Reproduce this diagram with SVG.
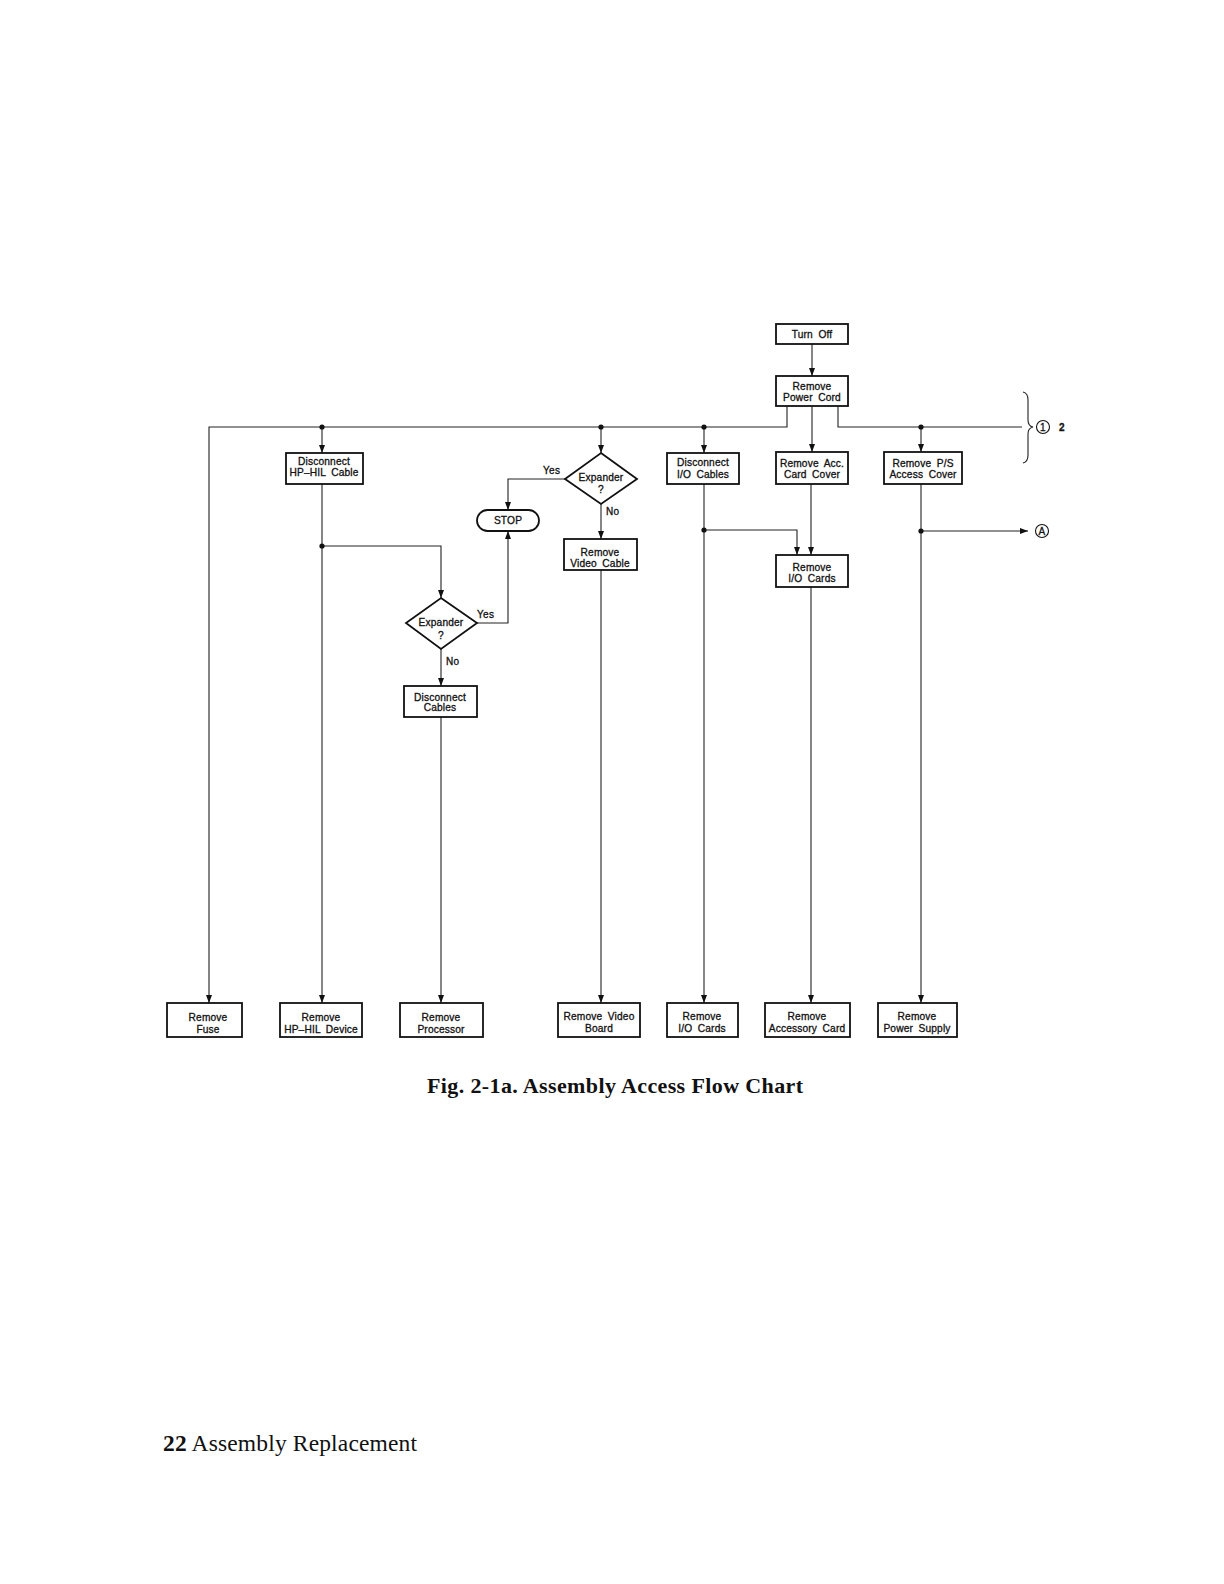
<svg xmlns="http://www.w3.org/2000/svg" width="1224" height="1584" viewBox="0 0 1224 1584">
<defs>
<style>
.box{fill:#fff;stroke:#111;stroke-width:1.8}
.ln{fill:none;stroke:#222;stroke-width:1.1}
.t{font-family:"Liberation Sans","DejaVu Sans",sans-serif;font-size:10.2px;fill:#111;stroke:#111;stroke-width:0.3;text-anchor:middle;word-spacing:2.5px;letter-spacing:0.15px}
.lbl{font-family:"Liberation Sans","DejaVu Sans",sans-serif;font-size:10px;fill:#111;stroke:#111;stroke-width:0.3;letter-spacing:0.3px}
.dot{fill:#111}
</style>
<marker id="ah" markerUnits="userSpaceOnUse" markerWidth="8" markerHeight="8" viewBox="0 0 8 8" refX="8" refY="4" orient="auto">
<path d="M0,1 L8,4 L0,7 Z" fill="#111"/>
</marker>
</defs>
<rect width="1224" height="1584" fill="#fff"/>

<g id="connectors">
<path class="ln" d="M812,344 V376" marker-end="url(#ah)"/>
<path class="ln" d="M787,406 V427 H209 V1003" marker-end="url(#ah)"/>
<path class="ln" d="M812,406 V452" marker-end="url(#ah)"/>
<path class="ln" d="M838,406 V427 H1022"/>
<path class="ln" d="M322,427 V453" marker-end="url(#ah)"/>
<path class="ln" d="M601,427 V453" marker-end="url(#ah)"/>
<path class="ln" d="M704,427 V453" marker-end="url(#ah)"/>
<path class="ln" d="M921,427 V452" marker-end="url(#ah)"/>
<path class="ln" d="M322,484 V1003" marker-end="url(#ah)"/>
<path class="ln" d="M322,546 H441 V598" marker-end="url(#ah)"/>
<path class="ln" d="M477,623 H508 V531" marker-end="url(#ah)"/>
<path class="ln" d="M441,649 V686" marker-end="url(#ah)"/>
<path class="ln" d="M441,717 V1003" marker-end="url(#ah)"/>
<path class="ln" d="M565,479 H508 V510" marker-end="url(#ah)"/>
<path class="ln" d="M601,504 V539" marker-end="url(#ah)"/>
<path class="ln" d="M601,570 V1003" marker-end="url(#ah)"/>
<path class="ln" d="M704,484 V1003" marker-end="url(#ah)"/>
<path class="ln" d="M704,530 H797 V555" marker-end="url(#ah)"/>
<path class="ln" d="M811,484 V555" marker-end="url(#ah)"/>
<path class="ln" d="M811,587 V1003" marker-end="url(#ah)"/>
<path class="ln" d="M921,484 V1003" marker-end="url(#ah)"/>
<path class="ln" d="M921,531 H1028" marker-end="url(#ah)"/>
<circle class="dot" cx="322" cy="427" r="2.6"/>
<circle class="dot" cx="601" cy="427" r="2.6"/>
<circle class="dot" cx="704" cy="427" r="2.6"/>
<circle class="dot" cx="921" cy="427" r="2.6"/>
<circle class="dot" cx="322" cy="546" r="2.6"/>
<circle class="dot" cx="704" cy="530" r="2.6"/>
<circle class="dot" cx="921" cy="531" r="2.6"/>
<text class="lbl" x="543" y="473.5">Yes</text>
<text class="lbl" x="606" y="514.5">No</text>
<text class="lbl" x="477" y="617.5">Yes</text>
<text class="lbl" x="446" y="664.5">No</text>
</g>

<g id="offpage">
<path class="ln" d="M1023,392 Q1028,393 1028,400 V420 Q1028,426 1033,427 Q1028,428 1028,434 V455 Q1028,462 1023,463"/>
<circle cx="1043" cy="427" r="6.5" fill="none" stroke="#111" stroke-width="1.1"/>
<text class="lbl" x="1043" y="430.5" text-anchor="middle" font-size="9">1</text>
<text class="lbl" x="1059" y="431" font-weight="bold" font-size="10">2</text>
<circle cx="1042" cy="531" r="6.5" fill="none" stroke="#111" stroke-width="1.1"/>
<text class="lbl" x="1042" y="534.5" text-anchor="middle" font-size="8.5">A</text>
</g>

<g id="turnoff"><rect class="box" x="776" y="324" width="72" height="20"/><text class="t" x="812" y="337.5">Turn Off</text></g>
<g id="powercord"><rect class="box" x="776" y="376" width="72" height="30"/><text class="t" x="812" y="390">Remove</text><text class="t" x="812" y="401">Power Cord</text></g>
<g id="hphil"><rect class="box" x="286" y="453" width="77" height="31"/><text class="t" x="324" y="464.5">Disconnect</text><text class="t" x="324" y="475.5">HP–HIL Cable</text></g>
<g id="expander1"><polygon class="box" points="601,453 637,479 601,504 565,479"/><text class="t" x="601" y="480.5">Expander</text><text class="t" x="601" y="493">?</text></g>
<g id="stop"><rect class="box" x="477" y="510" width="62" height="21" rx="10.5"/><text class="t" x="508" y="524">STOP</text></g>
<g id="videocable"><rect class="box" x="564" y="539" width="73" height="31"/><text class="t" x="600" y="556">Remove</text><text class="t" x="600" y="566.5">Video Cable</text></g>
<g id="iocables"><rect class="box" x="667" y="453" width="72" height="31"/><text class="t" x="703" y="466">Disconnect</text><text class="t" x="703" y="477.5">I/O Cables</text></g>
<g id="acccover"><rect class="box" x="776" y="452" width="72" height="32"/><text class="t" x="812" y="467">Remove Acc.</text><text class="t" x="812" y="477.5">Card Cover</text></g>
<g id="pscover"><rect class="box" x="884" y="452" width="78" height="32"/><text class="t" x="923" y="467">Remove P/S</text><text class="t" x="923" y="477.5">Access Cover</text></g>
<g id="iocards"><rect class="box" x="776" y="555" width="72" height="32"/><text class="t" x="812" y="571">Remove</text><text class="t" x="812" y="581.5">I/O Cards</text></g>
<g id="expander2"><polygon class="box" points="441,598 477,623 441,649 406,623"/><text class="t" x="441" y="625.5">Expander</text><text class="t" x="441" y="638.5">?</text></g>
<g id="disccables"><rect class="box" x="404" y="686" width="73" height="31"/><text class="t" x="440" y="700.5">Disconnect</text><text class="t" x="440" y="710.5">Cables</text></g>

<g id="fuse"><rect class="box" x="167" y="1003" width="75" height="34"/><text class="t" x="208" y="1021">Remove</text><text class="t" x="208" y="1033">Fuse</text></g>
<g id="hpdevice"><rect class="box" x="280" y="1003" width="82" height="34"/><text class="t" x="321" y="1021">Remove</text><text class="t" x="321" y="1033">HP–HIL Device</text></g>
<g id="processor"><rect class="box" x="400" y="1003" width="83" height="34"/><text class="t" x="441" y="1021">Remove</text><text class="t" x="441" y="1033">Processor</text></g>
<g id="videoboard"><rect class="box" x="558" y="1003" width="82" height="34"/><text class="t" x="599" y="1020">Remove Video</text><text class="t" x="599" y="1032">Board</text></g>
<g id="iocards2"><rect class="box" x="667" y="1003" width="71" height="34"/><text class="t" x="702" y="1020">Remove</text><text class="t" x="702" y="1032">I/O Cards</text></g>
<g id="acccard"><rect class="box" x="765" y="1003" width="85" height="34"/><text class="t" x="807" y="1020">Remove</text><text class="t" x="807" y="1032">Accessory Card</text></g>
<g id="psupply"><rect class="box" x="878" y="1003" width="79" height="34"/><text class="t" x="917" y="1020">Remove</text><text class="t" x="917" y="1032">Power Supply</text></g>

<text x="427" y="1093" font-family="Liberation Serif,serif" font-weight="bold" font-size="22" textLength="376" lengthAdjust="spacing" fill="#111">Fig. 2-1a. Assembly Access Flow Chart</text>
<text x="163" y="1451" font-family="Liberation Serif,serif" font-size="23.5" textLength="254" lengthAdjust="spacing" fill="#111"><tspan font-weight="bold">22</tspan> Assembly Replacement</text>
</svg>
